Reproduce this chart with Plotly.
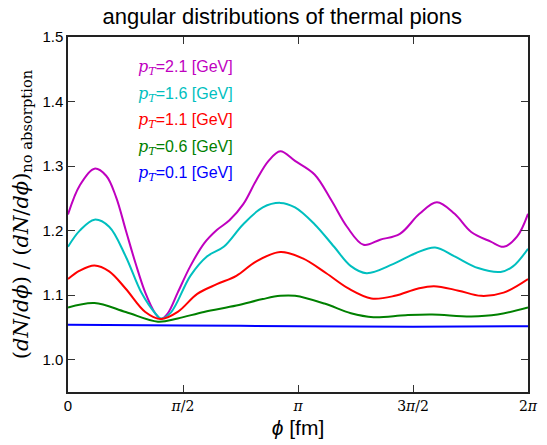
import numpy as np
import plotly.graph_objects as go

# phi values in units of pi, and ratio values for each pT
phi_m = [0, 0.051, 0.115, 0.166, 0.209, 0.251, 0.294, 0.336, 0.379, 0.404, 0.434, 0.477, 0.532, 0.591,
         0.647, 0.702, 0.762, 0.817, 0.872, 0.923, 0.987, 1.072, 1.145, 1.213, 1.285, 1.357, 1.443,
         1.528, 1.604, 1.681, 1.753, 1.838, 1.894, 1.953, 2.0]
val_21 = [1.225, 1.270, 1.296, 1.285, 1.252, 1.201, 1.149, 1.104, 1.072, 1.063, 1.072, 1.104, 1.145, 1.180,
          1.201, 1.216, 1.241, 1.277, 1.308, 1.323, 1.308, 1.287, 1.247, 1.206, 1.178, 1.186, 1.195,
          1.226, 1.244, 1.226, 1.198, 1.183, 1.175, 1.191, 1.226]

phi_c = [0, 0.051, 0.115, 0.179, 0.251, 0.319, 0.379, 0.404, 0.447, 0.532, 0.604, 0.677, 0.762, 0.847,
         0.923, 0.987, 1.072, 1.157, 1.230, 1.298, 1.413, 1.511, 1.596, 1.681, 1.783, 1.881, 1.936, 2.0]
val_16 = [1.175, 1.200, 1.217, 1.206, 1.160, 1.104, 1.072, 1.064, 1.073, 1.130, 1.160, 1.175, 1.210, 1.236,
          1.243, 1.236, 1.210, 1.175, 1.145, 1.134, 1.148, 1.165, 1.174, 1.160, 1.142, 1.136, 1.145, 1.172]

phi_r = [0, 0.051, 0.115, 0.179, 0.251, 0.336, 0.404, 0.477, 0.562, 0.647, 0.732, 0.817, 0.923, 1.021,
         1.123, 1.221, 1.319, 1.421, 1.519, 1.591, 1.698, 1.796, 1.894, 2.0]
val_11 = [1.125, 1.138, 1.146, 1.137, 1.110, 1.074, 1.063, 1.074, 1.102, 1.117, 1.130, 1.152, 1.167, 1.157,
          1.134, 1.110, 1.095, 1.099, 1.110, 1.114, 1.107, 1.099, 1.104, 1.125]

phi_g = [0, 0.115, 0.251, 0.391, 0.477, 0.591, 0.732, 0.847, 0.923, 0.987, 1.115, 1.230, 1.328, 1.468,
         1.583, 1.753, 1.868, 2.0]
val_06 = [1.081, 1.088, 1.074, 1.059, 1.064, 1.074, 1.084, 1.094, 1.099, 1.099, 1.087, 1.072, 1.066, 1.069,
          1.070, 1.067, 1.070, 1.081]

phi_b = [0, 0.5, 1.0, 1.5, 2.0]
val_01 = [1.054, 1.053, 1.052, 1.051, 1.052]

series = [
    ("2.1", phi_m, val_21, "#bf00bf"),
    ("1.6", phi_c, val_16, "#00bfbf"),
    ("1.1", phi_r, val_11, "#ff0000"),
    ("0.6", phi_g, val_06, "#008000"),
    ("0.1", phi_b, val_01, "#0000ff"),
]

tick_vals_pi = [0, 0.5, 1.0, 1.5, 2.0]
tick_text = ["<span style='font-family:Liberation Sans;font-size:15px'>0</span>",
             "<i>π</i>/2", "<i>π</i>", "3<i>π</i>/2", "2<i>π</i>"]

fig = go.Figure()
for name, xs, ys, col in series:
    fig.add_trace(go.Scatter(
        x=np.array(xs) * np.pi, y=ys, mode="lines",
        line=dict(color=col, width=2, shape="spline", smoothing=1.0),
        name="pT=" + name, showlegend=False))

# legend-like labels
for i, (name, xs, ys, col) in enumerate(series):
    fig.add_annotation(
        x=0.148, y=0.913 - i * 0.0745, xref="paper", yref="paper",
        xanchor="left", yanchor="middle", showarrow=False,
        text="<span style='font-family:DejaVu Serif'><i>p</i><sub><i>T</i></sub></span>=" + name + " [GeV]",
        font=dict(color=col, size=16, family="Liberation Sans"))

fig.update_layout(
    width=547, height=445,
    margin=dict(l=68, r=9, t=37, b=47),
    plot_bgcolor="white", paper_bgcolor="white",
    title=dict(text="angular distributions of thermal pions", x=0.516, xanchor="center",
               y=0.963, yanchor="middle",
               font=dict(size=22, family="Liberation Sans", color="black")),
    font=dict(family="Liberation Sans", color="black"),
)
fig.update_xaxes(
    range=[0, 2 * np.pi], tickvals=np.array(tick_vals_pi) * np.pi, ticktext=tick_text,
    ticks="inside", ticklen=7, tickcolor="#333", showline=True, linecolor="#222", linewidth=1.5,
    mirror="ticks", showgrid=False, zeroline=False,
    tickfont=dict(size=14, family="DejaVu Serif"),
    title=dict(text="<i>ϕ</i> [fm]", font=dict(size=21, family="Liberation Sans"), standoff=8))
fig.update_yaxes(
    range=[0.95, 1.5], tickvals=[1.0, 1.1, 1.2, 1.3, 1.4, 1.5], tickformat=".1f",
    ticks="inside", ticklen=7, tickcolor="#333", showline=True, linecolor="#222", linewidth=1.5,
    mirror="ticks", showgrid=False, zeroline=False,
    tickfont=dict(size=15, family="Liberation Sans"),
    title=dict(text="(<i>dN</i>/<i>dϕ</i>) / (<i>dN</i>/<i>dϕ</i>)<sub>no absorption</sub>",
               font=dict(size=21, family="DejaVu Serif"), standoff=8))

fig.write_html("out.html")
